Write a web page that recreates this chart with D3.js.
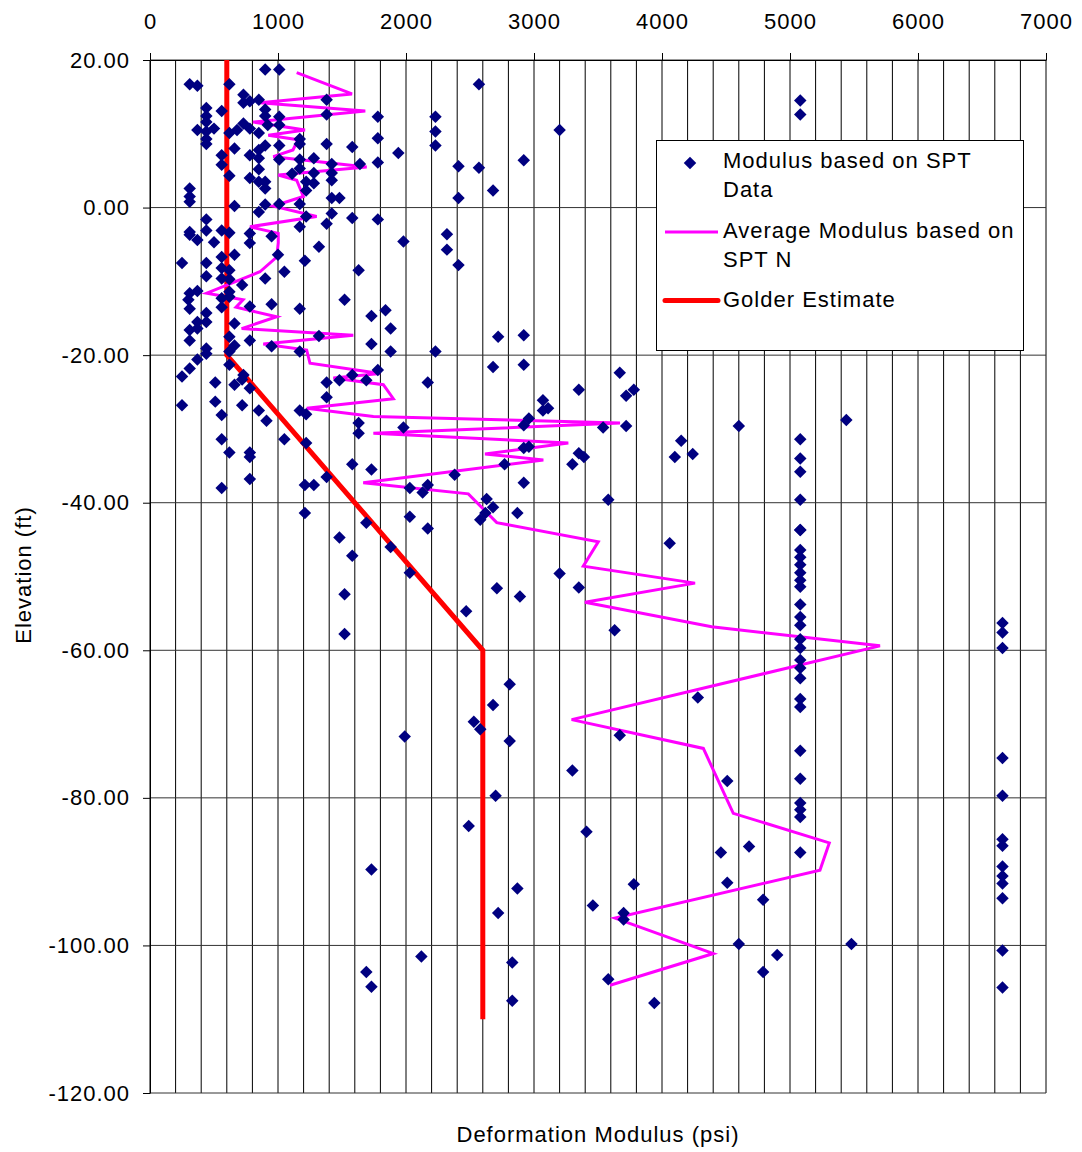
<!DOCTYPE html>
<html>
<head>
<meta charset="utf-8">
<script src="https://cdn.jsdelivr.net/npm/d3@7"></script>
<style>
body { margin: 0; background: #fff; }
text { font-family: Arial, "Liberation Sans", sans-serif; }
</style>
</head>
<body>
<div id="chart"></div>
<script>
// axis ticks
var xTicks = [0, 1000, 2000, 3000, 4000, 5000, 6000, 7000];
var yTicks = [20, 0, -20, -40, -60, -80, -100, -120];

// Modulus based on SPT Data (psi) and elevation (ft)
var sptModulus = [
  900, 1010, 310, 370, 620, 730, 730, 780, 850, 1380, 440, 560, 900, 440, 900, 1010, 1380, 1780, 2230, 440,
  730, 920, 1010, 370, 500, 440, 620, 680, 780, 850, 2230, 440, 440, 1170, 1170, 1380, 1580, 1780, 2230, 1940,
  660, 900, 850, 780, 1010, 1010, 560, 560, 850, 1170, 1280, 1420, 1640, 1780, 2410, 850, 620, 780, 850, 900,
  900, 1110, 1170, 1280, 1220, 1280, 1220, 1420, 1420, 1420, 1480, 2410, 310, 310, 310, 660, 850, 900, 1010, 1170,
  1220, 1420, 1580, 1780, 440, 2570, 2570, 2680, 2920, 3200, 5080, 5080, 1380, 1170, 310, 310, 370, 440, 560, 620,
  500, 780, 780, 950, 1320, 1980, 2320, 2320, 2410, 560, 660, 440, 250, 1000, 1210, 560, 620, 560, 620, 440,
  900, 1050, 1630, 720, 310, 370, 300, 310, 560, 620, 620, 560, 780, 950, 1170, 1520, 440, 440, 370, 310,
  370, 310, 660, 620, 780, 950, 1170, 1320, 1730, 1840, 1880, 1730, 1880, 2230, 440, 440, 620, 660, 620, 370,
  310, 250, 730, 510, 660, 720, 780, 1380, 1480, 1580, 1690, 1780, 2170, 1380, 250, 510, 720, 560, 850, 910,
  1170, 1220, 1630, 1630, 1980, 560, 620, 780, 780, 1050, 1220, 1580, 1730, 780, 560, 1210, 1280, 1380, 2030, 2130,
  2170, 2380, 1210, 1690, 2030, 2170, 1480, 1880, 2720, 2920, 2680, 2920, 3670, 3350, 3720, 3780, 3070, 3070, 3110, 2960,
  2920, 3540, 3720, 2920, 2960, 3350, 3390, 3300, 2770, 2920, 4150, 4100, 4240, 3580, 2630, 2680, 2620, 2580, 2870, 4060,
  5080, 3200, 3350, 2890, 3630, 5080, 5080, 5080, 5080, 5080, 5080, 5080, 5080, 5080, 5080, 5080, 5080, 5080, 5080, 5080,
  5080, 5080, 4280, 3670, 3300, 4510, 5080, 5080, 5080, 5080, 5080, 5440, 4600, 5080, 5080, 5080, 5080, 6660, 6660, 6660,
  5080, 6660, 6660, 6660, 6660, 6660, 6660, 6660, 6660, 6660, 6660, 4460, 4680, 4510, 4790, 4600, 5480, 4900, 4790, 3940,
  2680, 2530, 2580, 1990, 2810, 2700, 2490, 3410, 1730, 2870, 3780, 3460, 2720, 3700, 3700, 2120, 1690, 1730, 2830, 3580,
  2830, 1580, 2030, 2710, 1520, 2470, 1520, 2810
];
var sptElevation = [
  18.7, 18.7, 16.7, 16.5, 16.7, 15.3, 14.2, 14.4, 14.6, 14.6, 13.5, 13.1, 13.3, 12.4, 12.4, 12.3, 12.6, 12.3, 12.3, 11.6,
  11.4, 11.2, 11.2, 10.5, 10.7, 10.3, 10.1, 10.5, 10.7, 10.1, 10.3, 9.3, 8.6, 9.3, 8.6, 8.6, 8.2, 9.4, 8.4, 7.4,
  8.0, 8.4, 7.8, 7.1, 8.4, 6.5, 7.1, 5.8, 6.7, 6.5, 6.7, 5.9, 5.9, 6.1, 5.6, 5.2, 4.3, 4.0, 3.5, 2.6,
  3.5, 4.6, 5.3, 4.7, 3.5, 3.3, 2.3, 4.7, 3.7, 1.3, 1.3, 1.3, 2.6, 1.5, 0.8, 0.2, -0.6, 0.4, 0.5, 0.5,
  -1.2, -0.8, -1.4, -1.6, -1.6, 16.7, 5.4, 2.3, 6.4, 10.5, 14.5, 12.6, -2.2, -2.6, -3.3, -3.7, -4.4, -3.1, -3.1, -3.4,
  -4.7, -3.5, -4.8, -3.9, -5.3, -4.6, -3.6, -5.7, -7.8, -6.7, -6.4, -7.5, -7.5, -6.4, -7.2, -8.2, -8.5, -9.6, -9.7, -9.3,
  -9.6, -8.7, -8.5, -10.5, -11.6, -11.3, -12.5, -13.7, -12.3, -11.4, -12.1, -13.5, -13.4, -13.1, -13.7, -12.5, -14.3, -15.5, -15.5, -16.6,
  -16.4, -18.0, -15.7, -17.5, -18.0, -18.8, -19.5, -17.4, -14.7, -13.9, -16.4, -18.5, -19.5, -19.5, -19.1, -19.8, -19.5, -18.7, -21.3, -20.6,
  -21.8, -22.9, -22.7, -23.7, -24.0, -23.3, -24.5, -23.7, -23.4, -22.7, -23.4, -22.0, -23.7, -25.7, -26.8, -26.3, -26.8, -28.1, -27.5, -28.9,
  -27.5, -28.0, -29.2, -30.6, -29.8, -31.4, -33.2, -33.2, -33.8, -31.4, -31.9, -34.8, -35.5, -36.8, -38.0, -37.6, -37.6, -36.5, -38.0, -38.6,
  -37.6, -36.2, -41.4, -42.7, -41.9, -43.5, -44.7, -46.0, -17.5, -17.3, -21.6, -21.3, -22.4, -24.7, -25.5, -24.7, -26.1, -27.5, -27.2, -28.6,
  -29.5, -29.8, -29.6, -32.6, -32.4, -33.3, -33.8, -34.8, -34.8, -37.3, -31.6, -33.8, -33.4, -39.6, -39.5, -40.6, -41.4, -42.3, -41.4, -45.5,
  -43.7, -49.6, -51.5, -52.7, -57.3, -46.4, -47.4, -48.4, -49.5, -50.5, -51.4, -53.8, -55.5, -56.6, -58.5, -59.7, -61.3, -62.4, -63.8, -66.6,
  -67.7, -81.6, -66.4, -71.5, -76.3, -77.7, -73.6, -77.4, -80.7, -82.6, -87.4, -28.8, -29.6, -31.4, -34.0, -35.8, -39.6, -56.3, -57.6, -59.7,
  -43.7, -74.6, -79.7, -85.6, -86.5, -89.3, -90.6, -91.6, -93.6, -100.7, -105.7, -87.4, -86.6, -91.5, -93.8, -99.8, -99.8, -101.3, -103.6, -107.8,
  -67.4, -69.7, -70.7, -71.7, -72.3, -79.7, -83.8, -84.6, -89.7, -92.3, -91.7, -94.6, -95.6, -95.6, -96.5, -101.5, -103.6, -105.6, -102.3, -104.6,
  -107.5, -47.2, -49.5, -51.6, -52.4, -54.7, -57.8, -64.6
];

// Average Modulus based on SPT N
var avgModulus = [
  1146, 1578, 859, 1682, 805, 1211, 924, 1156, 1117, 963, 1693, 1002, 1146, 1198, 963, 1302, 781, 1002, 1002, 990,
  859, 443, 727, 672, 990, 716, 1588, 885, 1224, 1250, 1797, 1432, 1823, 1901, 1224, 1745, 3672, 1745, 3268, 2617,
  3073, 1666, 2487, 2709, 3502, 3385, 4258, 3398, 4388, 5703, 3294, 4323, 4557, 5307, 5234, 3633, 4401, 3594
];
var avgElevation = [
  18.3, 15.4, 14.2, 13.1, 11.6, 10.5, 9.8, 9.2, 7.8, 6.9, 5.5, 4.4, 3.7, 1.5, 0.2, -1.2, -2.6, -3.5, -4.8, -6.7,
  -8.7, -11.6, -12.5, -13.5, -14.8, -16.4, -17.3, -18.5, -19.3, -21.1, -22.5, -23.1, -24.0, -25.9, -27.2, -28.3, -29.2, -30.6, -31.9, -33.4,
  -34.2, -37.3, -38.8, -42.7, -45.3, -48.6, -50.9, -53.5, -56.8, -59.4, -69.4, -73.3, -82.1, -86.1, -89.8, -96.3, -101.1, -105.4
];

// Golder Estimate
var golderModulus = [600, 600, 2600, 2600];
var golderElevation = [20, -20, -60, -110];

var width = 1082, height = 1152;
var svg = d3.select("#chart").append("svg")
    .attr("width", width)
    .attr("height", height);

var x = d3.scaleLinear().domain([0, 7000]).range([150, 1046]);
var y = d3.scaleLinear().domain([-120, 20]).range([1093, 60]);

// grid
svg.append("g").selectAll("line")
    .data(d3.range(0, 7001, 200))
    .enter().append("line")
    .attr("x1", function (d) { return x(d); })
    .attr("x2", function (d) { return x(d); })
    .attr("y1", y(20))
    .attr("y2", y(-120))
    .attr("stroke", "#000")
    .attr("stroke-width", 1);

svg.append("g").selectAll("line")
    .data(yTicks)
    .enter().append("line")
    .attr("x1", x(0))
    .attr("x2", x(7000))
    .attr("y1", function (d) { return y(d); })
    .attr("y2", function (d) { return y(d); })
    .attr("stroke", "#333")
    .attr("stroke-width", 1);

// axes
var xAxis = svg.append("g")
    .attr("transform", "translate(0," + y(20) + ")")
    .call(d3.axisTop(x).tickValues(xTicks).tickFormat(d3.format("d"))
        .tickSize(7).tickSizeOuter(0).tickPadding(24));
var yAxis = svg.append("g")
    .attr("transform", "translate(" + x(0) + ",0)")
    .call(d3.axisLeft(y).tickValues(yTicks).tickFormat(function (d) { return d.toFixed(2); })
        .tickSize(7).tickSizeOuter(0).tickPadding(13));

[xAxis, yAxis].forEach(function (g) {
    g.attr("font-family", "Arial, 'Liberation Sans', sans-serif")
        .attr("font-size", 22);
    g.selectAll("text").attr("fill", "#000").style("letter-spacing", "1px");
    g.selectAll("line").attr("stroke", "#000");
    g.select(".domain").attr("stroke", "#000");
});

// axis titles
svg.append("text")
    .attr("transform", "translate(31,575) rotate(-90)")
    .attr("text-anchor", "middle")
    .attr("font-size", 22)
    .style("letter-spacing", "1px")
    .text("Elevation (ft)");

svg.append("text")
    .attr("x", 598)
    .attr("y", 1142)
    .attr("text-anchor", "middle")
    .attr("font-size", 22)
    .style("letter-spacing", "1px")
    .text("Deformation Modulus (psi)");

// lines
var line = d3.line()
    .x(function (d) { return x(d[0]); })
    .y(function (d) { return y(d[1]); });

svg.append("path")
    .datum(d3.zip(golderModulus, golderElevation))
    .attr("fill", "none")
    .attr("stroke", "#ff0000")
    .attr("stroke-width", 5)
    .attr("d", line);

svg.append("path")
    .datum(d3.zip(avgModulus, avgElevation))
    .attr("fill", "none")
    .attr("stroke", "#ff00ff")
    .attr("stroke-width", 3)
    .attr("stroke-linejoin", "miter")
    .attr("d", line);

// points
var diamond = d3.symbol().type(d3.symbolSquare).size(78);
svg.append("g").selectAll("path")
    .data(d3.zip(sptModulus, sptElevation))
    .enter().append("path")
    .attr("d", diamond)
    .attr("fill", "#000080")
    .attr("transform", function (d) {
        return "translate(" + x(d[0]) + "," + y(d[1]) + ") rotate(45)";
    });

// legend
var legend = svg.append("g");
legend.append("rect")
    .attr("x", 656.5).attr("y", 140.5)
    .attr("width", 367).attr("height", 210)
    .attr("fill", "#fff").attr("stroke", "#000");
legend.append("path")
    .attr("d", diamond)
    .attr("fill", "#000080")
    .attr("transform", "translate(690,163) rotate(45)");
legend.append("line")
    .attr("x1", 665).attr("x2", 718).attr("y1", 232).attr("y2", 232)
    .attr("stroke", "#ff00ff").attr("stroke-width", 3);
legend.append("line")
    .attr("x1", 665).attr("x2", 718).attr("y1", 300.5).attr("y2", 300.5)
    .attr("stroke", "#ff0000").attr("stroke-width", 5).attr("stroke-linecap", "round");

var legendText = [
    ["Modulus based on SPT", 168],
    ["Data", 197],
    ["Average Modulus based on", 238],
    ["SPT N", 267],
    ["Golder Estimate", 307]
];
legend.selectAll("text.lt")
    .data(legendText)
    .enter().append("text")
    .attr("class", "lt")
    .attr("x", 723)
    .attr("y", function (d) { return d[1]; })
    .attr("font-size", 22)
    .style("letter-spacing", "1px")
    .text(function (d) { return d[0]; });
</script>
</body>
</html>
